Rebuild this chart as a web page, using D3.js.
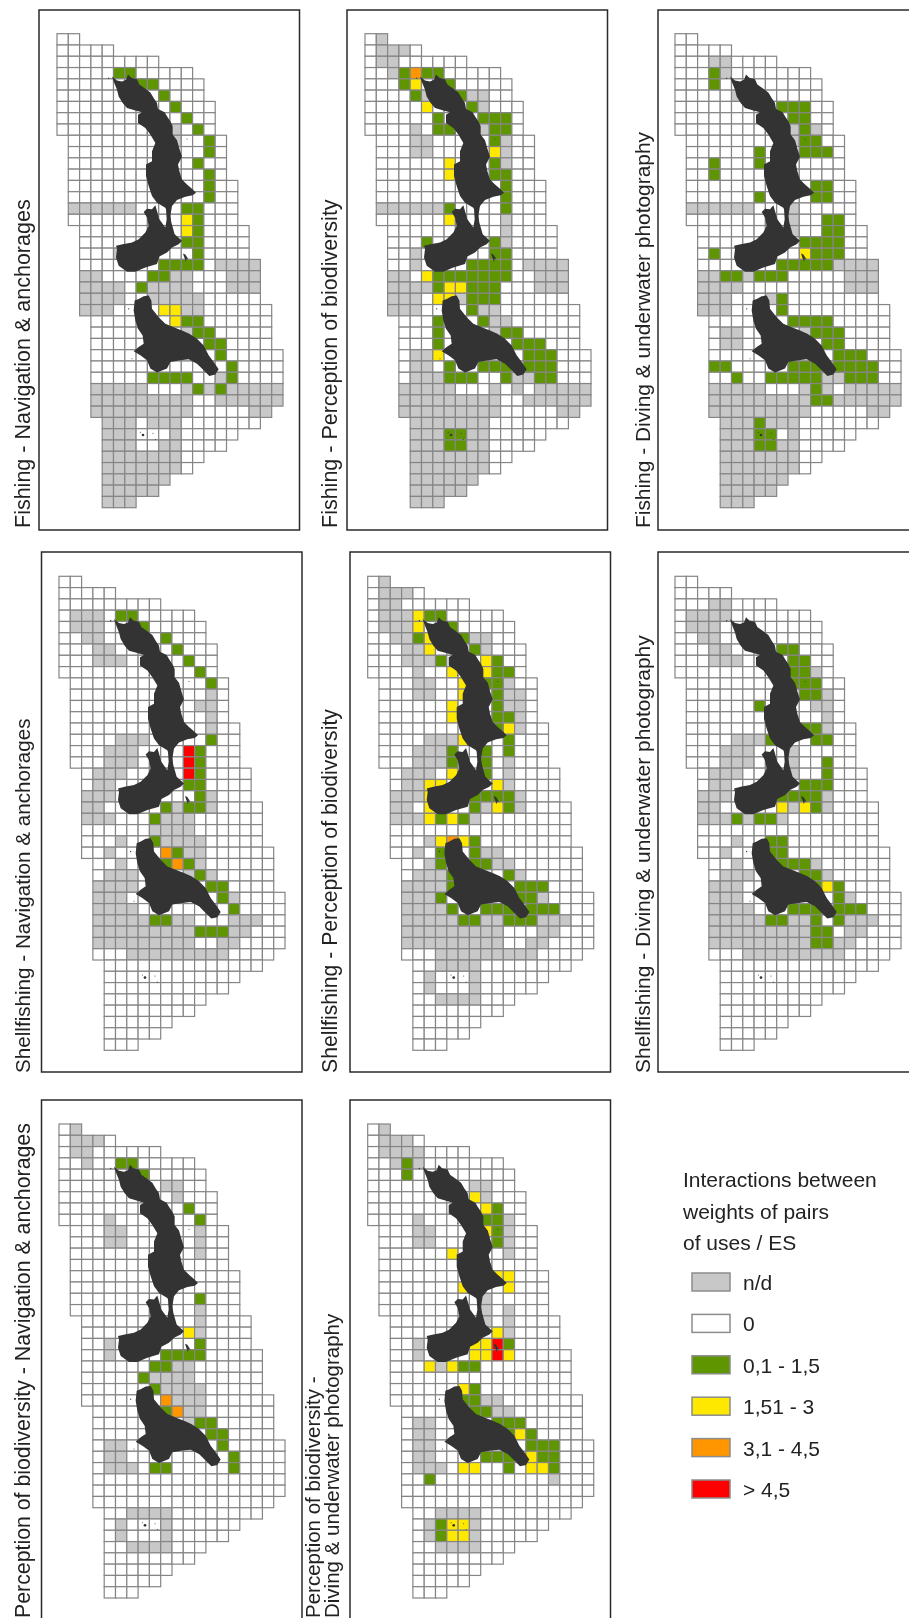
<!DOCTYPE html>
<html>
<head>
<meta charset="utf-8">
<script src="https://d3js.org/d3.v7.min.js"></script>
<style>
    html, body { margin: 0; padding: 0; background: #fff; }
    svg { display: block; filter: blur(0.45px); }
    text { font-family: "Liberation Sans", Arial, sans-serif; fill: #222; }
</style>
</head>
<body>
<div class="chart"></div>
<script>
// first and last column of the survey grid, per row
const rowFirst = [0,0,0,0,0,0,0,0,0,1,1,1,1,1,1,1,1,2,2,2,2,2,2,2,2,3,3,3,3,3,3,3,3,3,4,4,4,4,4,4,4,4]
const rowLast = [1,4,8,11,12,12,13,13,13,14,14,14,14,15,15,15,15,16,16,16,17,17,17,17,18,18,18,18,19,19,19,19,19,18,17,15,14,12,11,9,8,6]

// each entry: row, then class + column range. cells not listed are class 0
// n = n/d, g = 0,1-1,5, y = 1,51-3, o = 3,1-4,5, r = >4,5
const fishingNavigation = ["3 g5-6","4 g7-8","5 g9","6 g10","7 g11","8 n10 g12","9 n10 g13","10 g13","11 g12","12 g13","13 g13","14 g13","15 n1-6 g11-12","16 y11 g12","17 y11 g12","18 g11-12","19 n5 g12","20 g9-12 n14-17","21 n2-3 g8-9 n10-11 n15-17","22 n2-5 g7 n8-11 n15-17","23 n2-5 n8-12","24 n2-4 y9-10 n11-12","25 y10 g11-12","26 n11 g12-13","27 g13-14","28 g14","29 g15","30 g8-11 n14 g15","31 n3-7 n11 g12 n13 g14 n15-19","32 n3-11 n14-19","33 n3-11 n17-18","34 n4-6 n8-10","35 n4-6 n10","36 n4-6 n9-10","37 n4-10","38 n4-10","39 n4-9","40 n4-8","41 n4-6"]
const fishingPerception = ["0 n1","1 n1-3","2 n1-2","3 n2 g3 o4 g5-6","4 g3 y4 g7","5 g4 n5 g8 n9-10","6 y5 g9 n10","7 g6 g10-12","8 n4 g6-7 n10 g11-12","9 n4-5 g11 n12","10 n4-5 y11 n12","11 y7 g11 n12","12 y7 g11-12","13 g12","14 g12","15 n1-6 g7 g12","16 y7 n12","17 n12","18 g5 g11 n12","19 n4 g11-12","20 n4 g9-12 n14-17","21 n2-3 y5 g6-12 n15-17","22 n2-5 g6 y7-8 g9-11 n15-17","23 n2-4 y6-7 n8 g9-11","24 n2-4 g9 n10-11","25 g6 g10 n11-12","26 g6 n11 g12-13","27 g6 g13-15","28 n4-5 y6 g14-16","29 n4-5 g7 g10-12 g14-16","30 n4-6 g7-9 g12 n13-14 g15-16","31 n3-7 n11 n13 n15-19","32 n3-11 n14-19","33 n3-11 n17-18","34 n4-10","35 n4-6 g7-8 n9-10","36 n4-6 g7-8 n9-10","37 n4-10","38 n4-10","39 n4-9","40 n4-8","41 n4-6"]
const fishingDiving = ["2 n3-4","3 g3 n4","4 g3","5 n5","6 g9-11","7 g10-11","8 n10 g11 n12","9 n10 g11-12","10 g7 g11-13","11 g3 g7","12 g3","13 g12-13","14 g7 g12-13","15 n1-6 n10","16 n10 g13-14","17 n10 g13-14","18 g11-14","19 g3 y11 g12-14","20 g9-13 n14-17","21 n2-3 g4-5 n6 g7-9 n15-17","22 n2-5 n15-17","23 n2-4 n8 g9","24 n2-4 g9","25 g10-13","26 n4-5 n11 g12-14","27 n4-5 g13-14","28 g14-16","29 g3-4 g10-12 g14-17","30 g5 g8-12 n13-14 g15-17","31 n3-7 n11 g12 n13 n15-19","32 n3-11 g12-13 n14-19","33 n3-11 n17-18","34 n4-6 g7 n8-10","35 n4-6 g7-8 n10","36 n4-6 g7-8 n9-10","37 n4-10","38 n4-10","39 n4-9","40 n4-8","41 n4-6"]
const shellfishNavigation = ["3 n1-3 g5-6","4 n1-3 g7","5 n2-3 g9","6 n3-4 g10","7 n3-5 g11","8 g12","9 g13","10 n13","11 n12-13","12 n13","13 n13","14 n5-7 g13","15 n4-6 r11 g12","16 n4-6 r11 g12","17 n3-5 r11 g12","18 n3-4 g11-12","19 n2-4 g12 n13","20 n2-3 g9 n10 g11-12 n13","21 n2-4 g8 n9-11","22 n8-11","23 n5 g8 n9-12","24 n4 o9 g10 n11-12","25 n5 g9 o10 g11 n12","26 n4-6 n11 g12 n13","27 n3-6 g13-14","28 n3-5 g14 n15","29 n3-6 g15","30 n3-7 g8-9 n10-11 n15-17","31 n3-11 g12-14 n15-16","32 n3-11 n14-15","33 n6-14"]
const shellfishPerception = ["0 n1","1 n1-3","2 n1-2","3 n1-3 y4 g5-6","4 n1-3 y4 g7","5 n2-3 g4 y5 g8 n9-10","6 n3-4 y5 g9 n10","7 n3-5 g6 y10 g11","8 n4 y7 y10 g11-12","9 n4-5 y8 g10-11 n12","10 n4-5 y8 g11 n12-13","11 y7 g11 n12-13","12 y7 g11-12 n13","13 g10-11 y12 n13","14 n5-7 y8 g12","15 n4-6 g7 g10 g12","16 n4-6 g7 g10 n12","17 n3-5 y7 g10 n12","18 n3-4 y5-6 y11 n12","19 n2-4 y5 g9-12 n13","20 n2-3 y5 g9 n10 y11 g12 n13","21 n2-4 y5 g6 y7 g8 n9","23 n5 y6 o7 y8 g9","24 n4 g6 g9 n10-11","25 n5 g6 g9-10 n11-12","26 n4-6 g7 g12 n13","27 n3-6 g7 g13-15","28 n3-5 g6 g13-14 n15","29 n3-6 g7 g10-12 g14-16","30 n3-7 g8-9 n10-11 g12-14 n15-17","31 n3-11 n15-16","32 n3-11 n14-15","33 n6-14","34 n6-9","35 n5 n9","36 n5 n9","37 n6-9"]
const shellfishDiving = ["2 n3-4","3 n1-4","4 n1-3","5 n2-3","6 n3-4 g9-10","7 n3-5 g10-11","8 g10-11 n12","9 g10-12","10 g11-12 n13","11 g7 n12-13","12 n13","13 g11-12 n13","14 n5-7 g8 g12-13","15 n4-6 n10","16 n4-6 n10 g13","17 n3-5 n10 g13","18 n3-4 g11-13","19 n2-4 g9-12 n13","20 n2-3 y9 n10 y11 g12 n13","21 n2-4 g5 n6 g7-8 n9","23 n5 g8-9","24 n4 g8-9","25 n5 g9-11 n12","26 n4-6 g11-12 n13","27 n3-5 g12 y13 g14","28 n3-5 g14 n15","29 n3-6 g10-12 g14-16","30 n3-7 g8-9 n10-11 g12 g14 n15-17","31 n3-11 g12-13 n15-16","32 n3-11 g12-13 n14-15","33 n6-14"]
const perceptionNavigation = ["0 n1","1 n1-3","2 n1-2","3 n2 g5-6","4 g7","5 n9-10","6 n10","7 g11","8 n4 g12","9 n4-5 n12","10 n4-5 n12","11 n12","15 g12","16 n12","17 n12","18 y11 n12","19 n4 g12","20 n4 g9-12","21 g8-9 n10-11","22 g7 n8-11","23 g8 n9-12","24 o9 n10-12","25 g9 o10 n11-12","26 n11 g12-13","27 g13-14","28 n4-5 g14","29 n4-5 g15","30 n4-6 g8-9 g15","34 n6-9","35 n5 n9","36 n5 n9","37 n6-9"]
const perceptionDiving = ["0 n1","1 n1-3","2 n1-4","3 n2 g3 n4","4 g3","5 n9-10","6 y9 n10","7 y10 g11","8 n4 g10-11 n12","9 n4-5 y10 g11 n12","10 n4-5 g11 n12","11 y7 n12","13 y11-12","14 y8 y12","15 n10","16 n10 n12","17 n10 n12","18 y11 n12","19 n4 y9-10 r11 g12","20 n4 y9-10 r11 y12","21 y5 n6 y7 g8-9","23 y8 g9","24 g8-9 n10-11","25 g9-10 n11-12","26 n4-5 g11-13","27 n4-5 g12 y13 g14","28 n4-5 g14-16","29 n4-5 g10-12 y14 g15-16","30 n4-6 y8-9 g12 y14-15 g16","31 g5 n16","34 n6-9","35 n5 g6 y7-8 n9","36 n5 g6 y7-8 n9","37 n6-9"]

const panelCells = [fishingNavigation, fishingPerception, fishingDiving, shellfishNavigation, shellfishPerception, shellfishDiving, perceptionNavigation, perceptionDiving]
const panelLabels = [
    ["Fishing - Navigation & anchorages"],
    ["Fishing - Perception of biodiversity"],
    ["Fishing - Diving & underwater photography"],
    ["Shellfishing - Navigation & anchorages"],
    ["Shellfishing - Perception of biodiversity"],
    ["Shellfishing - Diving & underwater photography"],
    ["Perception of biodiversity - Navigation & anchorages"],
    ["Perception of biodiversity -", "Diving & underwater photography"]
]

const legendTitle = ["Interactions between", "weights of pairs", "of uses / ES"]
const classCodes = ["n", "w", "g", "y", "o", "r"]
const classLabels = ["n/d", "0", "0,1 - 1,5", "1,51 - 3", "3,1 - 4,5", "> 4,5"]
const classColors = ["#c8c8c8", "#ffffff", "#5f9600", "#ffe800", "#ff9600", "#ff0000"]

// coastline in trace units (see traceX / traceY below)
const mainIsland = [[225,170],[240,182],[255,185],[267,180],[273,164],[283,174],[300,178],[307,194],[323,205],[340,218],[350,235],[360,250],[363,268],[383,278],[390,290],[400,305],[407,320],[407,345],[420,362],[428,390],[435,412],[423,435],[427,455],[435,480],[450,495],[465,508],[477,520],[467,528],[445,532],[420,542],[405,560],[400,590],[403,610],[413,645],[435,665],[425,675],[405,685],[390,700],[367,712],[360,735],[325,745],[295,758],[270,758],[245,740],[237,715],[240,690],[237,680],[257,675],[285,670],[305,660],[325,640],[335,620],[330,595],[320,578],[330,568],[345,570],[355,558],[360,575],[367,600],[385,625],[389,600],[387,570],[385,565],[360,550],[345,530],[335,500],[327,470],[327,435],[345,425],[345,395],[355,370],[340,345],[325,325],[303,310],[303,285],[315,278],[295,272],[270,265],[257,250],[245,230],[240,210],[230,185]]
const southIsland = [[293,845],[305,840],[320,832],[335,830],[343,845],[345,870],[365,895],[385,915],[410,925],[435,935],[457,945],[480,960],[500,980],[515,1010],[530,1030],[545,1052],[535,1068],[517,1072],[500,1055],[480,1035],[455,1022],[430,1025],[400,1030],[390,1050],[360,1062],[340,1050],[330,1025],[310,1010],[290,998],[305,985],[320,975],[317,950],[303,930],[295,905],[290,875]]
const islet = [[438,703],[445,706],[455,722],[449,719],[447,728],[442,715]]
const specks = [[318,1250,4],[310,1242,1.5],[348,1245,1.5],[355,1263,1.5],[275,870,2],[215,175,2],[285,1020,1.5],[450,358,1.5],[330,340,1.5]]

// layout: top left of each frame, and offset of the grid inside it
const frameX = [39, 347, 658, 41.5, 350, 658, 41.5, 350]
const frameY = [10, 10, 10, 552, 552, 552, 1100, 1100]
const gridX = [57, 365, 675, 59, 367.7, 675, 59, 367.7]
const gridY = [33.7, 33.7, 33.7, 576.3, 576.3, 576.3, 1124, 1124]
const labelX = [30, 337, 650, 30, 337, 650, 30, 0]
const labelY = [528, 528, 528, 1073, 1073, 1073, 1618, 1618]
const labelSize = [21.5, 21.5, 20.9, 20.65, 21.2, 21, 21.3, 20.5]

const width = 909
const height = 1618
const frameW = 260.5
const frameH = 520
const nCols = 20
const nRows = 42
const gridW = 226
const gridH = 474

const color = d3.scaleOrdinal().domain(classCodes).range(classColors)

// trace units to grid units
const traceX = d3.scaleLinear().domain([60, 738]).range([0, nCols])
const traceY = d3.scaleLinear().domain([41, 1469]).range([0, nRows])

function parseCells(entries) {
    const cells = new Map()
    entries.forEach(e => {
        const parts = e.split(" ")
        const row = +parts[0]
        parts.slice(1).forEach(p => {
            const [a, b] = p.slice(1).split("-").map(Number)
            d3.range(a, (b === undefined ? a : b) + 1).forEach(c => cells.set(row + "_" + c, p[0]))
        })
    })
    const out = []
    rowFirst.forEach((first, row) => {
        d3.range(first, rowLast[row] + 1).forEach(col => {
            out.push({ row, col, cls: cells.get(row + "_" + col) || "w" })
        })
    })
    return out
}

const svg = d3.select(".chart")
    .append("svg")
    .attr("width", width)
    .attr("height", height)

panelCells.forEach((entries, i) => {
    const x = d3.scaleLinear().domain([0, nCols]).range([gridX[i], gridX[i] + gridW])
    const y = d3.scaleLinear().domain([0, nRows]).range([gridY[i], gridY[i] + gridH])

    const g = svg.append("g")

    g.append("rect")
        .attr("x", frameX[i])
        .attr("y", frameY[i])
        .attr("width", frameW)
        .attr("height", frameH)
        .attr("fill", "#fff")
        .attr("stroke", "#2a2a2a")
        .attr("stroke-width", 1.5)

    g.append("g")
        .selectAll("rect")
        .data(parseCells(entries))
        .join("rect")
        .attr("x", d => x(d.col))
        .attr("y", d => y(d.row))
        .attr("width", x(1) - x(0))
        .attr("height", y(1) - y(0))
        .attr("fill", d => color(d.cls))
        .attr("stroke", "#858585")
        .attr("stroke-width", 1.2)

    const line = d3.line()
        .x(d => x(traceX(d[0])))
        .y(d => y(traceY(d[1])))
        .curve(d3.curveLinearClosed)

    g.selectAll("path")
        .data([mainIsland, southIsland, islet])
        .join("path")
        .attr("d", line)
        .attr("fill", "#333333")

    g.selectAll("circle")
        .data(specks)
        .join("circle")
        .attr("cx", d => x(traceX(d[0])))
        .attr("cy", d => y(traceY(d[1])))
        .attr("r", d => d[2] / 3)
        .attr("fill", "#333333")

    const lines = panelLabels[i]
    if (lines.length === 1) {
        g.append("text")
            .attr("transform", `translate(${labelX[i]},${labelY[i]}) rotate(-90)`)
            .attr("font-size", labelSize[i])
            .text(lines[0])
    } else {
        lines.forEach((t, k) => {
            g.append("text")
                .attr("transform", `translate(${320 + k * 19},${labelY[i]}) rotate(-90)`)
                .attr("font-size", labelSize[i])
                .text(t)
        })
    }
})

// legend
const legendX = 683
const legendY = d3.scaleLinear().domain([0, 5]).range([1282, 1489])

svg.append("g")
    .selectAll("text")
    .data(legendTitle)
    .join("text")
    .attr("x", legendX)
    .attr("y", (d, i) => 1187 + i * 31.5)
    .attr("font-size", 21)
    .text(d => d)

const legendRows = svg.append("g")
    .selectAll("g")
    .data(classCodes)
    .join("g")
    .attr("transform", (d, i) => `translate(0,${legendY(i)})`)

legendRows.append("rect")
    .attr("x", 692)
    .attr("y", -9)
    .attr("width", 38)
    .attr("height", 18)
    .attr("fill", d => color(d))
    .attr("stroke", "#8c8c8c")
    .attr("stroke-width", 1.5)

legendRows.append("text")
    .attr("x", 743)
    .attr("y", 8)
    .attr("font-size", 21)
    .text((d, i) => classLabels[i])
</script>
</body>
</html>
